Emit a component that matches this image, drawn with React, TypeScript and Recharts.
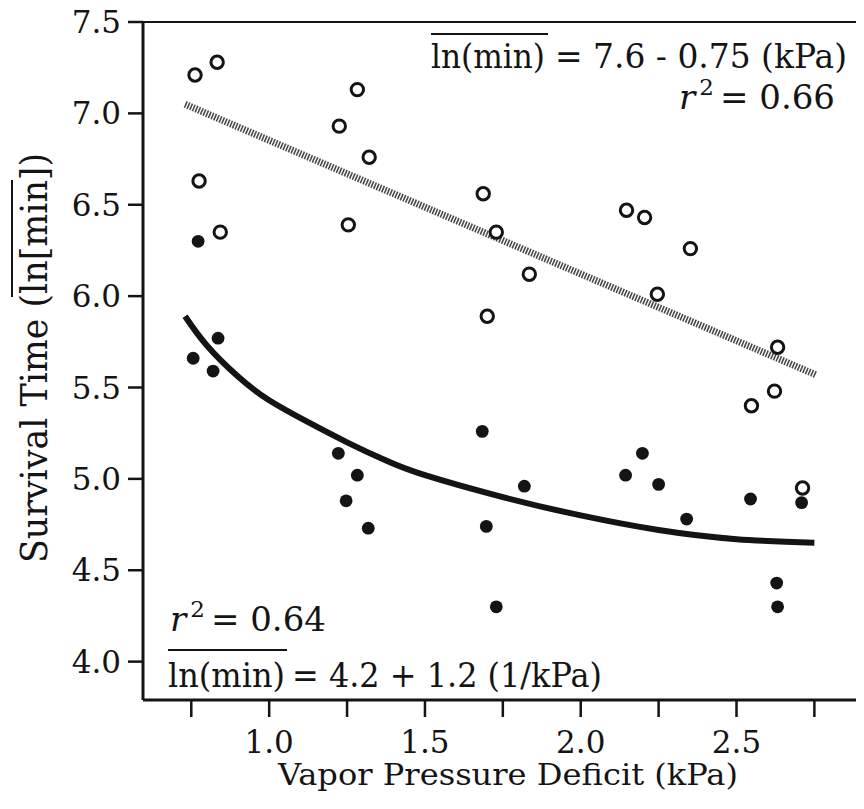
import React from 'react';
import {
  ScatterChart,
  Scatter,
  XAxis,
  YAxis,
  ReferenceLine,
  Customized,
} from 'recharts';

// ---- data ----
const openX = [0.762, 0.833, 0.775, 0.843, 1.225, 1.283, 1.321, 1.254, 1.687, 1.729, 1.835, 1.7, 2.147, 2.205, 2.352, 2.246, 2.632, 2.622, 2.548, 2.712];
const openY = [7.21, 7.28, 6.63, 6.35, 6.93, 7.13, 6.76, 6.39, 6.56, 6.35, 6.12, 5.89, 6.47, 6.43, 6.26, 6.01, 5.72, 5.48, 5.4, 4.95];

const filledX = [0.772, 0.836, 0.756, 0.82, 1.222, 1.283, 1.247, 1.318, 1.684, 1.819, 1.697, 1.729, 2.198, 2.144, 2.25, 2.34, 2.545, 2.709, 2.629, 2.632];
const filledY = [6.3, 5.77, 5.66, 5.59, 5.14, 5.02, 4.88, 4.73, 5.26, 4.96, 4.74, 4.3, 5.14, 5.02, 4.97, 4.78, 4.89, 4.87, 4.43, 4.3];

// linear fit line (upper group), endpoints
const linFitX = [0.73, 2.754];
const linFitY = [7.05, 5.57];

// reciprocal fit curve (lower group)
const curveX = [0.73, 0.8, 0.9, 1.0, 1.125, 1.25, 1.375, 1.5, 1.75, 2.0, 2.25, 2.5, 2.75];
const curveY = [5.89, 5.73, 5.56, 5.43, 5.31, 5.2, 5.1, 5.02, 4.9, 4.8, 4.72, 4.67, 4.65];

const xTicks = [0.75, 1.0, 1.25, 1.5, 1.75, 2.0, 2.25, 2.5, 2.75];
const yTicks = [4.0, 4.5, 5.0, 5.5, 6.0, 6.5, 7.0, 7.5];
const xDomain: [number, number] = [0.595, 2.89];
const yDomain: [number, number] = [3.79, 7.5];

const xLabel = 'Vapor Pressure Deficit (kPa)';
const yLabel = 'Survival Time (ln[min])';
const upperEqLeft = 'ln(min)';
const upperEqRight = '= 7.6 - 0.75 (kPa)';
const upperR2 = '= 0.66';
const lowerEqLeft = 'ln(min)';
const lowerEqRight = '= 4.2 + 1.2 (1/kPa)';
const lowerR2 = '= 0.64';

const zip = (xs: number[], ys: number[]) => xs.map((x, i) => ({ x, y: ys[i] }));
const openData = zip(openX, openY);
const filledData = zip(filledX, filledY);
const linData = zip(linFitX, linFitY);
const curveData = zip(curveX, curveY);

const FONT = '"DejaVu Serif", serif';
const INK = '#141414';

const OpenCircle = (p: any) => (
  <circle cx={p.cx} cy={p.cy} r={6.2} fill="#fff" stroke={INK} strokeWidth={3} />
);
const FilledCircle = (p: any) => <circle cx={p.cx} cy={p.cy} r={6.4} fill={INK} />;
const NoShape = () => <g />;

const Annotations = () => (
  <g fontFamily={FONT} fill={INK} transform="translate(0,8)">
    {/* axis titles */}
    <text x={270} y={777} fontSize={30} textLength={460} lengthAdjust="spacingAndGlyphs">
      {xLabel}
    </text>
    <text
      x={39}
      y={350}
      fontSize={37}
      textAnchor="middle"
      textLength={410}
      lengthAdjust="spacingAndGlyphs"
      transform="rotate(-90, 39, 350)"
    >
      {yLabel}
    </text>
    <line x1={4} y1={172} x2={4} y2={289} stroke={INK} strokeWidth={2} />

    {/* upper equation */}
    <line x1={423} y1={26} x2={540} y2={26} stroke={INK} strokeWidth={2} />
    <text x={423} y={60} fontSize={34} textLength={114} lengthAdjust="spacingAndGlyphs">
      {upperEqLeft}
    </text>
    <text x={547} y={60} fontSize={34} textLength={292} lengthAdjust="spacingAndGlyphs">
      {upperEqRight}
    </text>
    <text x={827} y={101} fontSize={34} textAnchor="end">
      <tspan fontStyle="italic">r</tspan>
      <tspan fontSize={23} dy={-14} dx={4}>2</tspan>
      <tspan dy={14} dx={6}>{upperR2}</tspan>
    </text>

    {/* lower equation */}
    <text x={162} y={623} fontSize={34}>
      <tspan fontStyle="italic">r</tspan>
      <tspan fontSize={23} dy={-14} dx={4}>2</tspan>
      <tspan dy={14} dx={6}>{lowerR2}</tspan>
    </text>
    <line x1={160} y1={642} x2={279} y2={642} stroke={INK} strokeWidth={2} />
    <text x={160} y={679} fontSize={34} textLength={117} lengthAdjust="spacingAndGlyphs">
      {lowerEqLeft}
    </text>
    <text x={284} y={679} fontSize={34} textLength={310} lengthAdjust="spacingAndGlyphs">
      {lowerEqRight}
    </text>
  </g>
);

const tickStyle = { fontFamily: FONT, fontSize: 31, fill: INK };

export default function App() {
  return (
    <div style={{ width: 852, height: 803, marginTop: -8, background: '#fff' }}>
      <ScatterChart
        width={852}
        height={803}
        margin={{ top: 22, right: 2, left: 0, bottom: 3 }}
      >
        <XAxis
          type="number"
          dataKey="x"
          domain={xDomain}
          allowDataOverflow
          ticks={xTicks}
          interval={0}
          tickFormatter={(v: number) => (Math.abs(v * 2 - Math.round(v * 2)) < 1e-6 ? v.toFixed(1) : '')}
          tickSize={17}
          tickMargin={14}
          height={100}
          tick={tickStyle}
          axisLine={{ stroke: INK, strokeWidth: 3 }}
          tickLine={{ stroke: INK, strokeWidth: 2.5 }}
        />
        <YAxis
          type="number"
          dataKey="y"
          domain={yDomain}
          allowDataOverflow
          ticks={yTicks}
          interval={0}
          tickFormatter={(v: number) => v.toFixed(1)}
          tickSize={15}
          tickMargin={7}
          width={135}
          tick={tickStyle}
          axisLine={{ stroke: INK, strokeWidth: 3 }}
          tickLine={{ stroke: INK, strokeWidth: 2.5 }}
        />
        <ReferenceLine y={7.5} stroke={INK} strokeWidth={2} />
        <ReferenceLine x={2.89} stroke={INK} strokeWidth={2} />
        <Scatter
          data={linData}
          isAnimationActive={false}
          shape={NoShape}
          line={{ stroke: '#4a4a4a', strokeWidth: 7, strokeDasharray: '1.6 1.3' }}
        />
        <Scatter
          data={curveData}
          isAnimationActive={false}
          shape={NoShape}
          line={{ stroke: INK, strokeWidth: 6, strokeLinejoin: 'round' }}
          lineJointType="natural"
        />
        <Scatter data={openData} isAnimationActive={false} shape={OpenCircle} />
        <Scatter data={filledData} isAnimationActive={false} shape={FilledCircle} />
        <Customized component={Annotations} />
      </ScatterChart>
    </div>
  );
}
